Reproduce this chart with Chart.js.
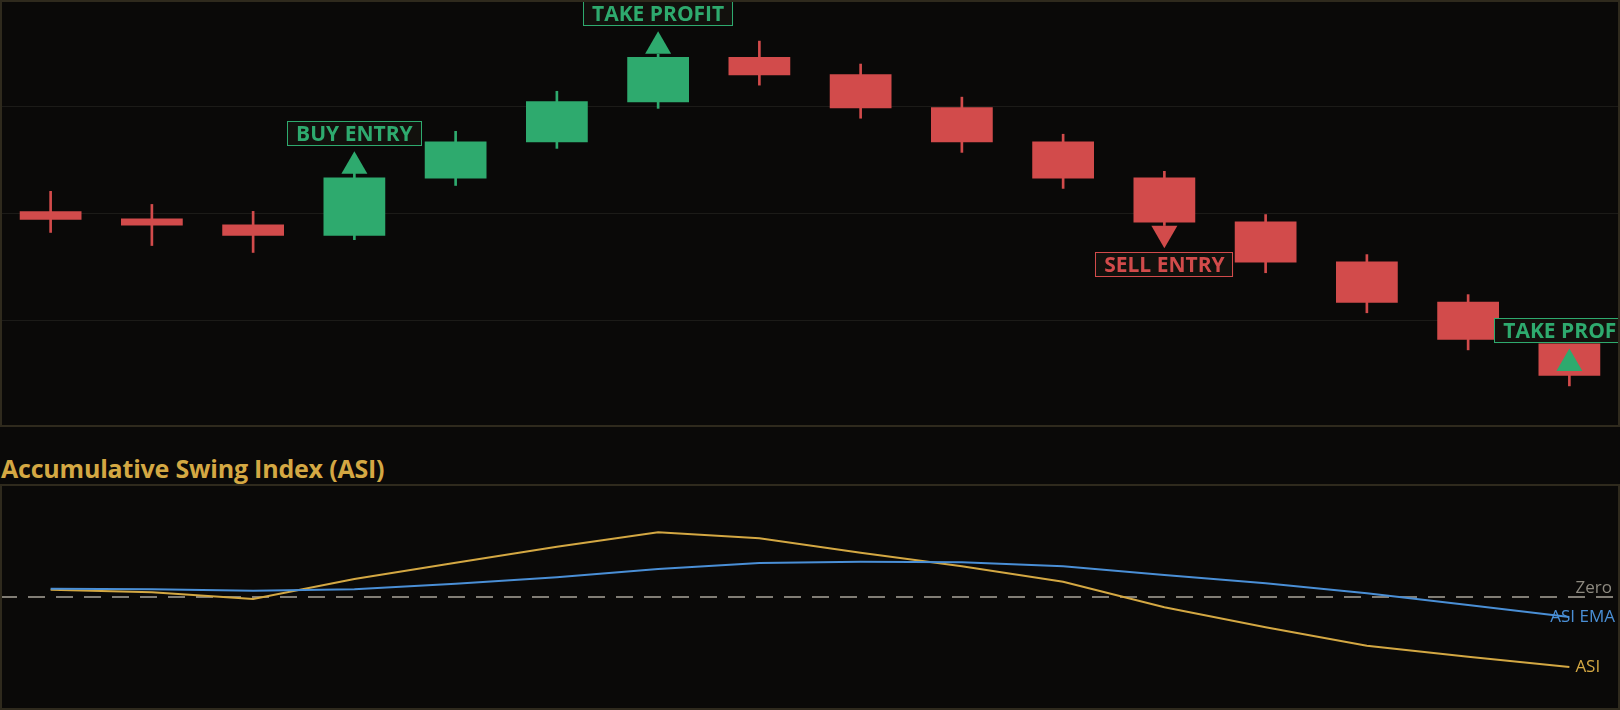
<!DOCTYPE html>
<html>
<head>
<meta charset="utf-8">
<title>ASI Swing Strategy</title>
<script src="https://cdn.jsdelivr.net/npm/chart.js@4.4.1/dist/chart.umd.min.js"></script>
<style>
  html, body { margin: 0; padding: 0; background: #0a0908; }
  body { width: 1620px; height: 710px; position: relative; overflow: hidden; }
  #priceChart { position: absolute; left: 0; top: 0; }
  #asiTitle {
    position: absolute; left: 1px; top: 453px;
    color: #d4a843; font: bold 25px 'Open Sans', sans-serif; line-height: 30px;
    letter-spacing: -0.2px;
  }
  #asiChart { position: absolute; left: 0; top: 484px; }
</style>
</head>
<body>
<canvas id="priceChart" width="1620" height="427"></canvas>
<div id="asiTitle">Accumulative Swing Index (ASI)</div>
<canvas id="asiChart" width="1620" height="226"></canvas>

<script>
'use strict';

// ── Data ──────────────────────────────────────────────────
const bars = ['1', '2', '3', '4', '5', '6', '7', '8', '9', '10', '11', '12', '13', '14', '15', '16'];

const opens  = [100.08, 99.81, 99.59, 99.17, 101.31, 102.67, 104.17, 105.86, 105.22, 103.98, 102.70, 101.35, 99.70, 98.20, 96.69, 95.15];
const highs  = [100.83, 100.34, 100.08, 101.54, 103.08, 104.58, 105.97, 106.46, 105.60, 104.36, 102.97, 101.58, 99.96, 98.46, 96.96, 95.40];
const lows   = [99.29, 98.80, 98.54, 99.02, 101.05, 102.44, 103.94, 104.81, 103.57, 102.29, 100.94, 99.55, 97.78, 96.28, 94.89, 93.54];
const closes = [99.77, 99.55, 99.17, 101.35, 102.70, 104.21, 105.86, 105.18, 103.94, 102.67, 101.31, 99.66, 98.16, 96.66, 95.27, 93.92];

// signals: bar index, marker level, side, text
const signalIndex = [3, 6, 11, 15];
const signalPrice = [101.77, 106.27, 99.26, 94.38];
const signalSide  = ['up', 'up', 'down', 'up'];
const signalText  = ['BUY ENTRY', 'TAKE PROFIT', 'SELL ENTRY', 'TAKE PROFIT'];

const asiValues = [6.5, 4.2, -1.8, 15.9, 30.4, 44.5, 57.3, 51.9, 39.2, 27.2, 13.5, -9.1, -26.8, -43.1, -52.8, -61.9];
const emaValues = [7.3, 6.8, 5.6, 6.8, 11.8, 17.4, 24.8, 30.1, 31.2, 30.7, 27.2, 19.5, 12.1, 3.3, -7.1, -17.7];
const zeroLevel = 0;

// ── Colours ───────────────────────────────────────────────
const UP = '#2eaa6e';
const DOWN = '#d24b4b';
const GOLD = '#d4a843';
const BLUE = '#4a8fd6';
const FRAME = '#2f2a1d';
const GRID = '#1c1b18';

const candleColors = opens.map((o, i) => (closes[i] >= o ? UP : DOWN));
const signalColors = signalText.map(t => (t === 'SELL ENTRY' ? DOWN : UP));

// marker dataset: null everywhere except signal bars
const markerData = bars.map((_, i) => {
    const k = signalIndex.indexOf(i);
    return k === -1 ? null : signalPrice[k];
});
const markerRotation = bars.map((_, i) => {
    const k = signalIndex.indexOf(i);
    return k !== -1 && signalSide[k] === 'down' ? 180 : 0;
});
const markerColor = bars.map((_, i) => {
    const k = signalIndex.indexOf(i);
    return k === -1 ? UP : signalColors[k];
});

// ── Plugins ───────────────────────────────────────────────
const panelFrame = {
    id: 'panelFrame',
    afterDraw(chart) {
        const ctx = chart.ctx;
        ctx.save();
        ctx.strokeStyle = FRAME;
        ctx.lineWidth = 2;
        ctx.strokeRect(1, 1, chart.width - 2, chart.height - 2);
        ctx.restore();
    }
};

const signalLabels = {
    id: 'signalLabels',
    afterDatasetsDraw(chart) {
        const { ctx, scales: { x, y } } = chart;
        ctx.save();
        ctx.font = 'bold 21px "Open Sans"';
        ctx.textAlign = 'center';
        ctx.textBaseline = 'middle';
        signalIndex.forEach((idx, i) => {
            const cx = x.getPixelForValue(idx);
            const cy = y.getPixelForValue(signalPrice[i]);
            const w = ctx.measureText(signalText[i]).width + 18;
            const h = 25;
            const top = signalSide[i] === 'up' ? cy - 15 - 5 - h : cy + 15 + 4;
            ctx.fillStyle = '#12110d';
            ctx.fillRect(cx - w / 2, top, w, h);
            ctx.strokeStyle = signalColors[i];
            ctx.lineWidth = 1;
            ctx.strokeRect(Math.round(cx - w / 2) + 0.5, Math.round(top) + 0.5, Math.round(w) - 1, h - 1);
            ctx.fillStyle = signalColors[i];
            ctx.fillText(signalText[i], cx, top + h / 2 + 1);
        });
        ctx.restore();
    }
};

const zeroLine = {
    id: 'zeroLine',
    beforeDatasetsDraw(chart) {
        const { ctx, chartArea, scales: { y } } = chart;
        const yy = Math.round(y.getPixelForValue(zeroLevel));
        ctx.save();
        ctx.strokeStyle = 'rgba(150, 146, 136, 0.85)';
        ctx.lineWidth = 2;
        ctx.setLineDash([17, 11]);
        ctx.beginPath();
        ctx.moveTo(chartArea.left, yy);
        ctx.lineTo(chartArea.right, yy);
        ctx.stroke();
        ctx.restore();
    }
};

const lineTags = {
    id: 'lineTags',
    afterDatasetsDraw(chart) {
        const { ctx, scales: { x, y } } = chart;
        const last = bars.length - 1;
        ctx.save();
        ctx.font = '17px "Open Sans"';
        ctx.textBaseline = 'middle';
        ctx.textAlign = 'right';
        ctx.fillStyle = '#8e8a80';
        ctx.fillText('Zero', chart.width - 8, y.getPixelForValue(zeroLevel) - 9);
        ctx.fillStyle = BLUE;
        ctx.fillText('ASI EMA', chart.width - 5, y.getPixelForValue(emaValues[last]));
        ctx.textAlign = 'left';
        ctx.fillStyle = GOLD;
        ctx.fillText('ASI', x.getPixelForValue(last) + 6, y.getPixelForValue(asiValues[last]));
        ctx.restore();
    }
};

// ── Price panel ───────────────────────────────────────────
new Chart(document.getElementById('priceChart'), {
    type: 'bar',
    data: {
        labels: bars,
        datasets: [
            {
                type: 'line',
                label: 'Signals',
                data: markerData,
                showLine: false,
                pointStyle: 'triangle',
                pointRadius: 15,
                pointRotation: markerRotation,
                pointBackgroundColor: markerColor,
                pointBorderWidth: 0,
                order: 0,
            },
            {
                label: 'Body',
                data: opens.map((o, i) => [o, closes[i]]),
                backgroundColor: candleColors,
                barPercentage: 0.61,
                categoryPercentage: 1,
                order: 1,
            },
            {
                label: 'Wick',
                data: lows.map((l, i) => [l, highs[i]]),
                backgroundColor: candleColors,
                barThickness: 2,
                order: 2,
            },
        ],
    },
    options: {
        responsive: false,
        animation: false,
        grouped: false,
        layout: { padding: 0, autoPadding: false },
        plugins: { legend: { display: false }, tooltip: { enabled: false } },
        scales: {
            x: { display: false },
            y: {
                min: 92,
                max: 108,
                ticks: { display: false, stepSize: 4 },
                grid: { color: GRID, drawTicks: false },
                border: { display: false },
            },
        },
    },
    plugins: [signalLabels, panelFrame],
});

// ── ASI panel ─────────────────────────────────────────────
new Chart(document.getElementById('asiChart'), {
    type: 'line',
    data: {
        labels: bars,
        datasets: [
            {
                label: 'ASI EMA',
                data: emaValues,
                borderColor: BLUE,
                borderWidth: 2,
                pointRadius: 0,
                tension: 0,
            },
            {
                label: 'ASI',
                data: asiValues,
                borderColor: GOLD,
                borderWidth: 2,
                pointRadius: 0,
                tension: 0,
            },
        ],
    },
    options: {
        responsive: false,
        animation: false,
        layout: { padding: 0, autoPadding: false },
        plugins: { legend: { display: false }, tooltip: { enabled: false } },
        scales: {
            x: { display: false, offset: true },
            y: { display: false, min: -100, max: 100 },
        },
    },
    plugins: [zeroLine, lineTags, panelFrame],
});
</script>
</body>
</html>
